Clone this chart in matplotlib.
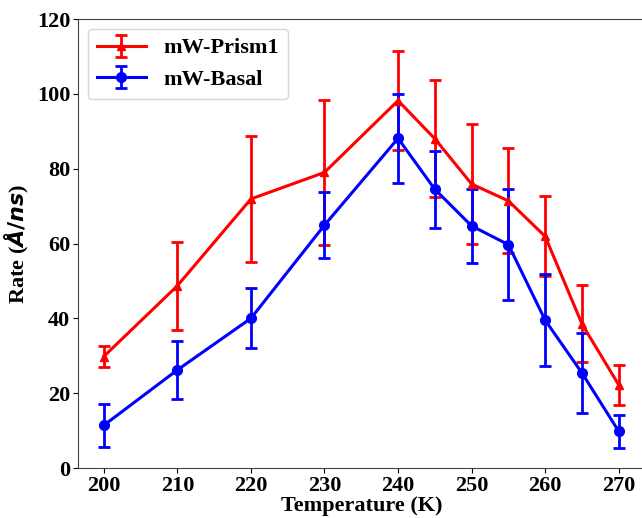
import matplotlib
matplotlib.use("Agg")
import matplotlib.pyplot as plt

temps = [200, 210, 220, 230, 240, 245, 250, 255, 260, 265, 270]
prism1 = [29.8, 48.7, 71.9, 79.0, 98.2, 88.0, 75.9, 71.4, 61.9, 38.5, 22.2]
prism1_err = [2.9, 11.7, 16.8, 19.3, 13.3, 15.7, 16.0, 14.0, 10.7, 10.3, 5.3]
basal = [11.4, 26.2, 40.0, 64.9, 88.1, 74.5, 64.7, 59.7, 39.5, 25.4, 9.8]
basal_err = [5.7, 7.8, 8.0, 8.9, 11.8, 10.3, 9.9, 14.8, 12.3, 10.6, 4.4]

plt.rcParams['font.family'] = ['Liberation Serif', 'DejaVu Serif']
plt.rcParams['font.weight'] = 'bold'
plt.rcParams['mathtext.fontset'] = 'custom'
plt.rcParams['mathtext.it'] = 'DejaVu Sans:italic:bold'
plt.rcParams['mathtext.rm'] = 'DejaVu Sans:bold'
plt.rcParams['mathtext.bf'] = 'DejaVu Sans:italic:bold'

fig = plt.figure(figsize=(6.42, 5.18), dpi=100)
ax = fig.add_axes([0.1215, 0.0965, 0.8824, 0.8668])

ax.errorbar(temps, prism1, yerr=prism1_err, color='red', marker='^', markersize=6,
            linewidth=2.2, elinewidth=2, capsize=4, capthick=2, label='mW-Prism1')
ax.errorbar(temps, basal, yerr=basal_err, color='blue', marker='o', markersize=7,
            linewidth=2.2, elinewidth=2, capsize=4, capthick=2, label='mW-Basal')

ax.set_ylim(0, 120)
ax.set_xticks([200, 210, 220, 230, 240, 250, 260, 270])
ax.set_yticks([0, 20, 40, 60, 80, 100, 120])
ax.tick_params(labelsize=16, pad=2)
for lab in ax.get_xticklabels() + ax.get_yticklabels():
    lab.set_fontweight('bold')
ax.set_xlabel('Temperature (K)', fontsize=16, fontweight='bold', labelpad=0)
ax.set_ylabel(r'Rate ($\AA/ns$)', fontsize=16, fontweight='bold', labelpad=4)
for s in ax.spines.values():
    s.set_color('#444444')

leg = ax.legend(loc='upper left', handlelength=2.2, borderaxespad=0.45,
                prop={'size': 16, 'weight': 'bold'})

fig.savefig('out.png', dpi=100)
